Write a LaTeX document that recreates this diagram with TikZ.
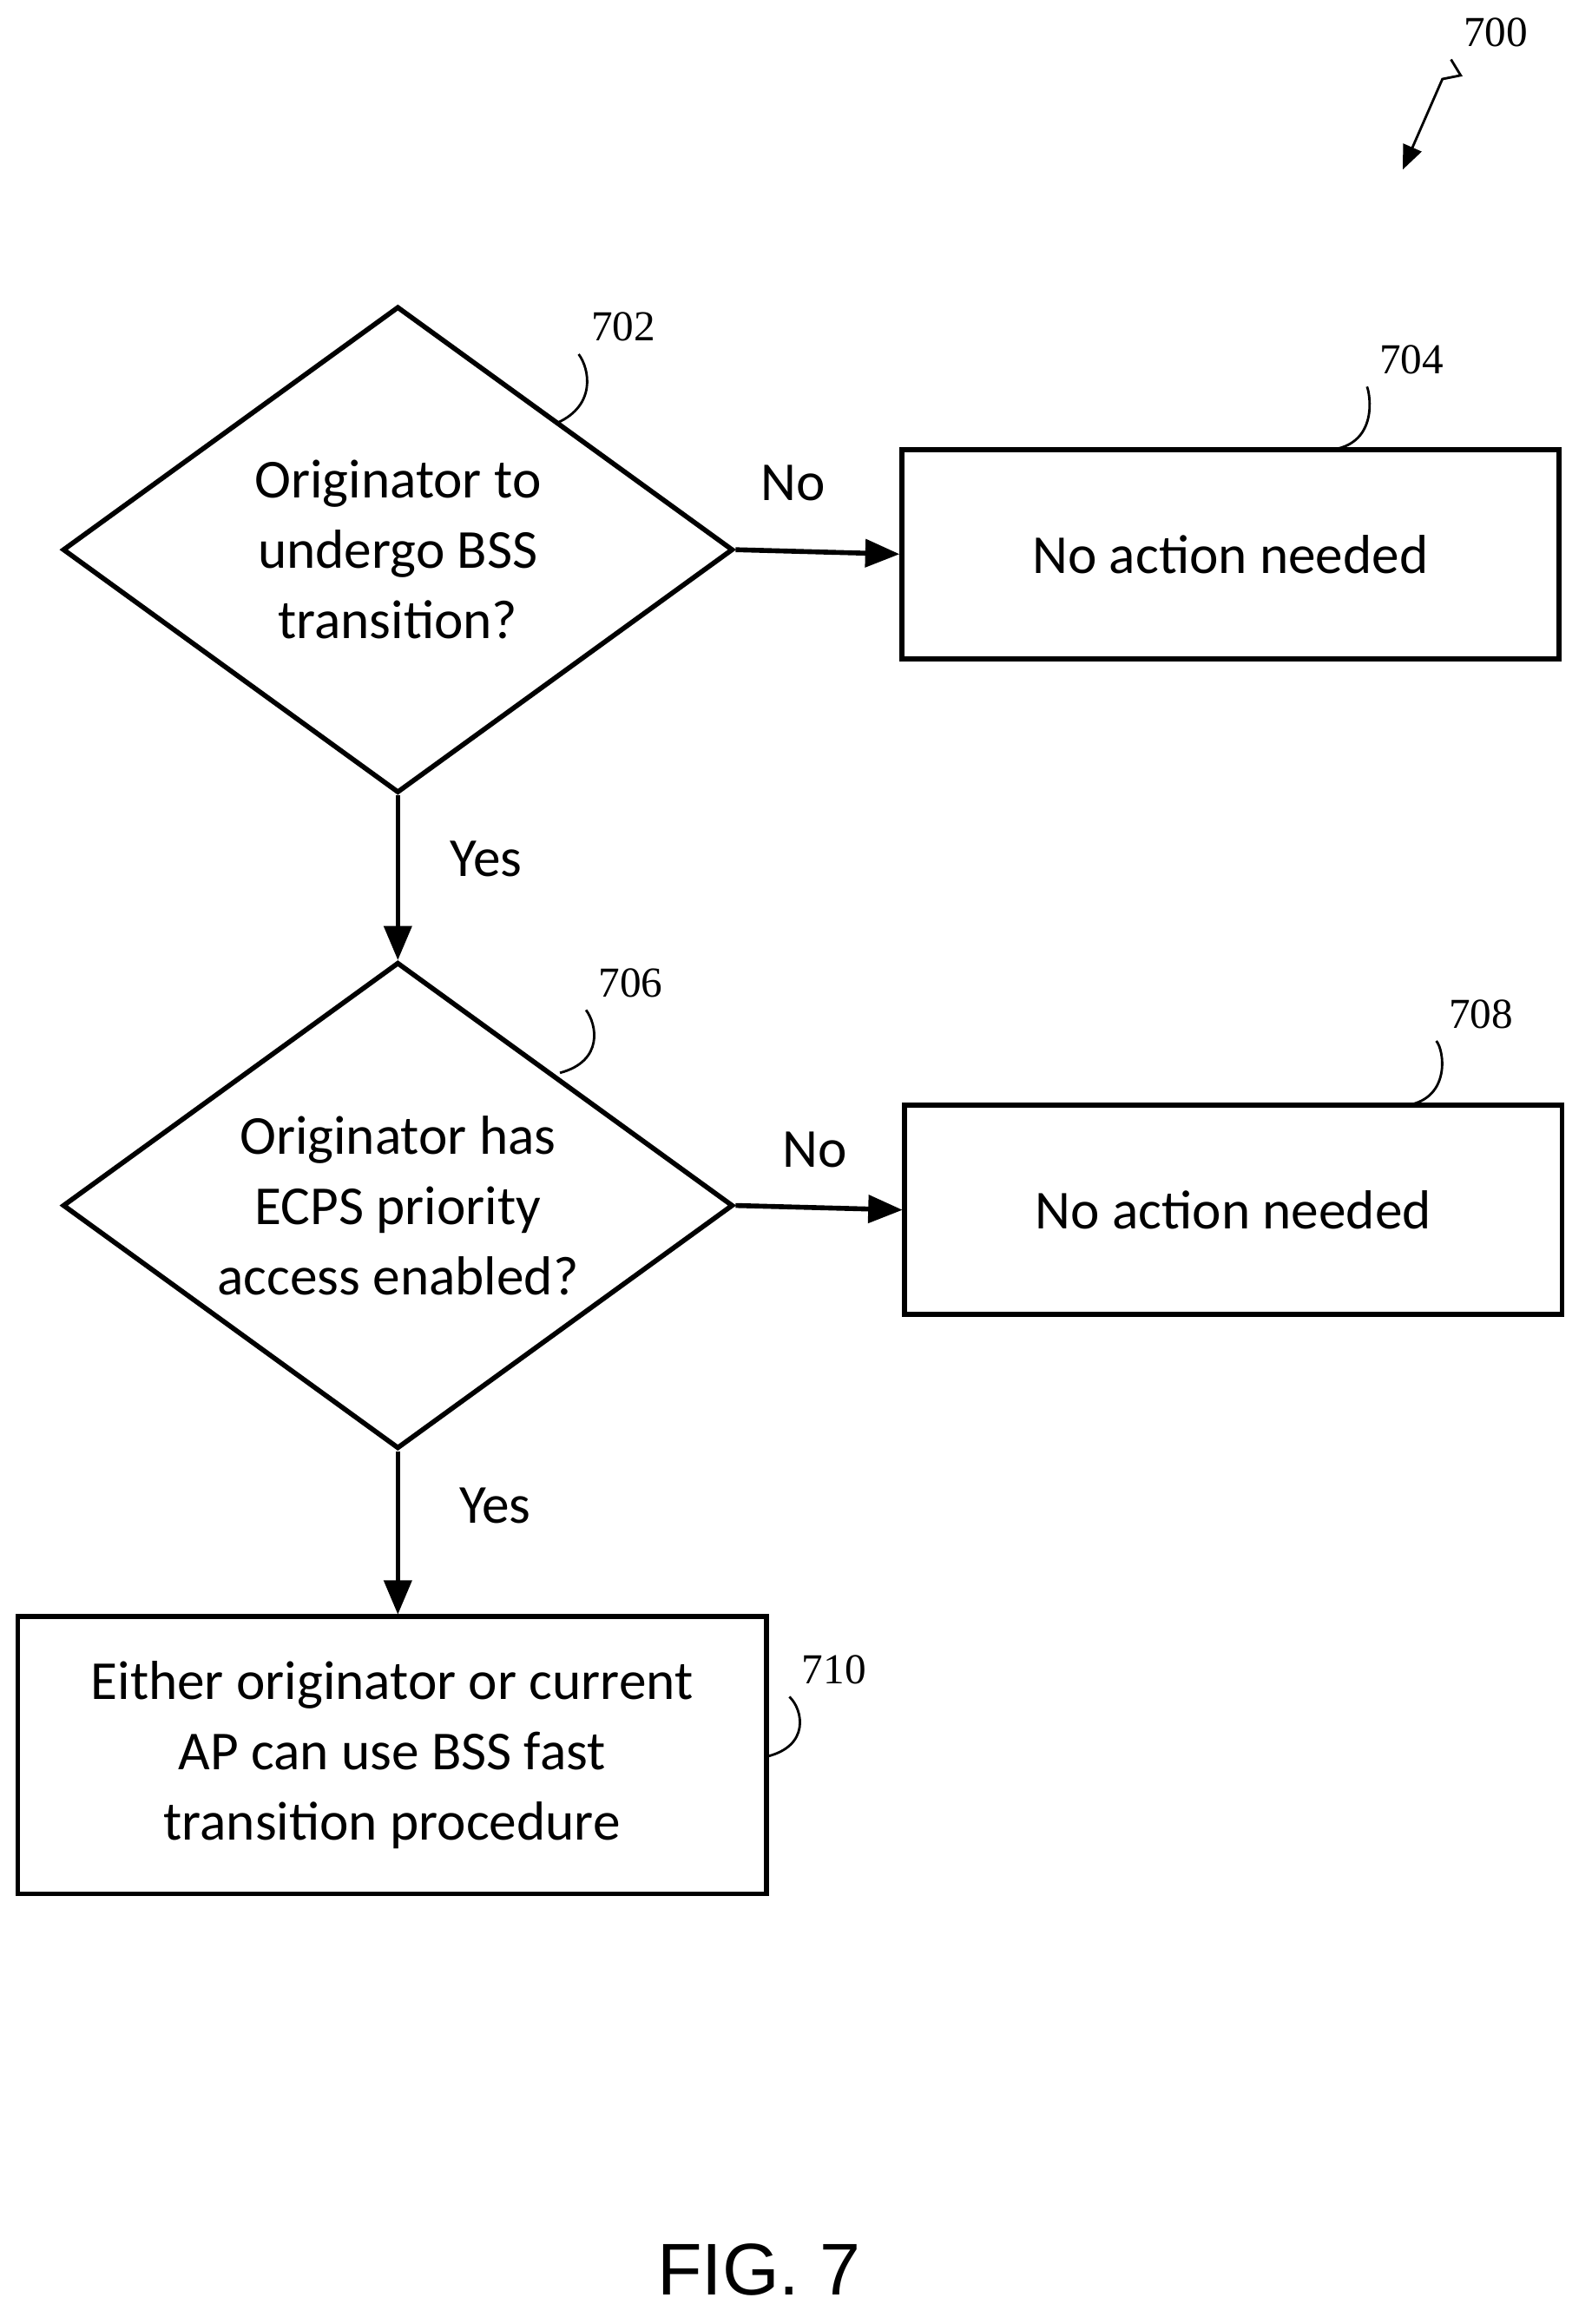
\documentclass[tikz,border=0pt]{standalone}
\usepackage{fontspec}
\setmainfont{Carlito}
\newfontfamily\numfont{Liberation Serif}
\newfontfamily\figfont{Liberation Sans}
\usetikzlibrary{arrows,shapes,positioning,decorations.pathmorphing}

\begin{document}
\begin{tikzpicture}
[x=0.01697cm, y=-0.01697cm, line width=1.6pt, >=triangle 45,
decision/.style={diamond, draw, inner sep=0pt, aspect=1.38, minimum width=7.72cm, minimum height=5.6cm, align=center, font=\fontsize{18}{23}\selectfont},
action/.style={rectangle, draw, inner sep=0pt, minimum width=7.57cm, minimum height=2.41cm, align=center, font=\fontsize{18}{23}\selectfont},
refnum/.style={font=\numfont\fontsize{14}{16}\selectfont},
answer/.style={font=\fontsize{18}{22}\selectfont},
leader/.style={line width=0.8pt}]

\useasboundingbox (0,0) rectangle (1080,1577);

% decisions and actions
\node[decision] (transit) at (270,373) {Originator to\\undergo BSS\\transition?};
\node[action] (noaction1) at (835,376) {No action needed};
\node[decision] (ecps) at (270,818) {Originator has\\ECPS priority\\access enabled?};
\node[action] (noaction2) at (837,821) {No action needed};
\node[action, minimum width=8.62cm, minimum height=3.19cm] (fastbss) at (266,1191)
  {Either originator or current\\AP can use BSS fast\\transition procedure};

% connectors
\draw[->] (transit.east) -- (noaction1.west);
\draw[->] (transit.south) -- (ecps.north);
\draw[->] (ecps.east) -- (noaction2.west);
\draw[->] (ecps.south) -- (fastbss.north -| ecps.south);

\node[answer] (no1) at (538,328) {No};
\node[answer] (yes1) at (330,583) {Yes};
\node[answer] (no2) at (553,780) {No};
\node[answer] (yes2) at (336,1022) {Yes};

% reference numerals
\node[refnum] (n702) at (423,222) {702};
\draw[leader] (378,287) .. controls (405,275) and (400,250) .. (n702.south west);
\node[refnum] (n704) at (958,244) {704};
\draw[leader] (905,305) .. controls (935,300) and (930,268) .. (n704.south west);
\node[refnum] (n706) at (428,667) {706};
\draw[leader] (380,728) .. controls (410,720) and (405,695) .. (n706.south west);
\node[refnum] (n708) at (1005,688) {708};
\draw[leader] (955,750) .. controls (985,745) and (980,712) .. (n708.south west);
\node[refnum] (n710) at (566,1133) {710};
\draw[leader] (520,1192) .. controls (550,1185) and (545,1160) .. (n710.south west);

\node[refnum] (n700) at (1015,22) {700};
\coordinate (tip700) at (952,115);
\draw[leader, ->, decorate, decoration={zigzag, amplitude=5pt, segment length=14pt, post length=30pt}]
  (n700.south west) -- (tip700);

\node[font=\figfont\fontsize{24}{28}\selectfont] (fig) at (515,1540) {FIG. 7};
\end{tikzpicture}
\end{document}
